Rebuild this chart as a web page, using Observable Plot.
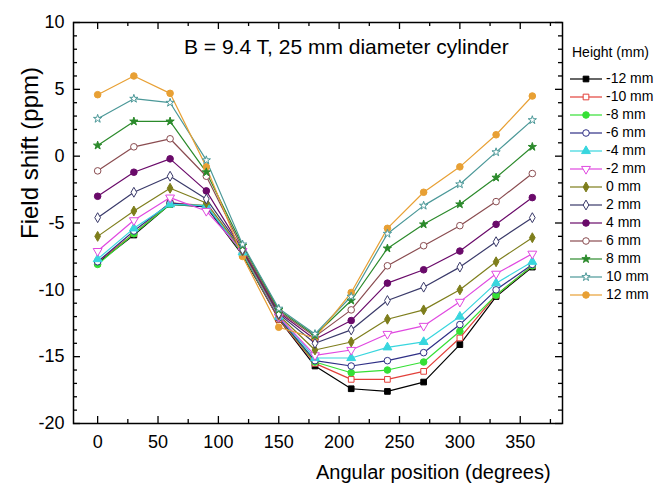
<!DOCTYPE html>
<html><head><meta charset="utf-8">
<script src="https://cdn.jsdelivr.net/npm/d3@7"></script>
<script src="https://cdn.jsdelivr.net/npm/@observablehq/plot@0.6"></script>
<style>
body{margin:0;background:#fff;font-family:"Liberation Sans",Arial,sans-serif;color:#000;}
#wrap{position:relative;width:667px;height:490px;overflow:hidden;background:#fff;}
.ov{position:absolute;white-space:nowrap;line-height:1;}
</style></head><body><div id="wrap"></div><script>
// ---- data ----
const angles = [0,30,60,90,120,150,180,210,240,270,300,330,360];
const heights = [-12,-10,-8,-6,-4,-2,0,2,4,6,8,10,12];
const hm12 = [-8.0,-5.9,-3.6,-3.8,-7.4,-12.2,-15.7,-17.4,-17.6,-16.9,-14.1,-10.5,-8.3];
const hm10 = [-7.9,-5.8,-3.5,-3.7,-7.3,-12.2,-15.5,-16.7,-16.7,-16.1,-13.6,-10.4,-8.2];
const hm8  = [-8.1,-5.8,-3.6,-3.7,-7.3,-12.1,-15.4,-16.2,-16.0,-15.4,-13.1,-10.4,-8.2];
const hm6  = [-7.9,-5.6,-3.5,-3.8,-7.2,-12.1,-15.3,-15.7,-15.3,-14.7,-12.6,-10.0,-8.1];
const hm4  = [-7.7,-5.4,-3.6,-3.7,-7.2,-12.0,-15.1,-15.1,-14.3,-13.9,-12.0,-9.5,-7.9];
const hm2  = [-7.1,-4.8,-3.1,-4.1,-7.1,-12.0,-14.9,-14.5,-13.3,-12.7,-10.9,-8.8,-7.3];
const h0   = [-6.0,-4.1,-2.4,-3.5,-7.1,-11.9,-14.5,-13.9,-12.2,-11.5,-10.0,-7.9,-6.1];
const h2   = [-4.6,-2.7,-1.5,-3.2,-7.0,-11.8,-14.0,-13.0,-10.8,-9.8,-8.3,-6.4,-4.6];
const h4   = [-3.0,-1.2,-0.2,-2.6,-7.0,-11.7,-13.7,-12.3,-9.5,-8.5,-7.1,-5.1,-3.1];
const h6   = [-1.1,0.7,1.3,-1.5,-6.9,-11.6,-13.5,-11.5,-8.2,-6.7,-5.2,-3.4,-1.3];
const h8   = [0.8,2.6,2.6,-1.2,-6.7,-11.5,-13.4,-10.8,-6.9,-5.1,-3.6,-1.6,0.7];
const h10  = [2.8,4.3,4.0,-0.3,-6.6,-11.4,-13.3,-10.5,-5.8,-3.7,-2.1,0.3,2.7];
const h12  = [4.6,6.0,4.7,-0.8,-7.5,-12.8,-13.6,-10.2,-5.4,-2.7,-0.8,1.6,4.5];
const seriesValues = [hm12,hm10,hm8,hm6,hm4,hm2,h0,h2,h4,h6,h8,h10,h12];
const seriesLabels = ["-12 mm","-10 mm","-8 mm","-6 mm","-4 mm","-2 mm","0 mm","2 mm","4 mm","6 mm","8 mm","10 mm","12 mm"];
const seriesColors = ["#000000","#e2403a","#35e035","#2f2f86","#38d6de","#e048e0","#7e7e1c","#3a3a6a","#6a0a6a","#8a4c50","#2b8a2b","#4b9898","#e8a034"];
const seriesSymbols = ["square","square","circle","circle","triangle","triangle","diamond","diamond","circle","circle","star","star","circle"];
const seriesFilled = [true,false,true,false,true,false,true,false,true,false,true,false,true];
const seriesRotate = [0,0,0,0,0,180,0,0,0,0,0,0,0];
const xTicks = [0,50,100,150,200,250,300,350];
const xMinor = [25,75,125,175,225,275,325,375];
const yTicks = [-20,-15,-10,-5,0,5,10];
const yMinor = d3.range(-19,10).filter(v => v % 5 !== 0);
const titleText = "B = 9.4 T, 25 mm diameter cylinder";
const xLabel = "Angular position (degrees)";
const yLabel = "Field shift (ppm)";
const legendTitle = "Height (mm)";

// marker radius per symbol (display size)
const symR = {square: 3.2, circle: 3.3, triangle: 3.3, diamond: 3.0, star: 2.6};

// ---- build rows ----
const rows = [];
seriesValues.forEach((vals, i) => vals.forEach((v, j) => rows.push({
  height: heights[i], angle: angles[j], value: v,
  color: seriesColors[i], symbol: seriesSymbols[i],
  fill: seriesFilled[i] ? seriesColors[i] : "white", rot: seriesRotate[i]
})));

const W = 667, H = 490, ML = 73, MR = 105, MT = 22, MB = 67;
const PW = W - ML - MR, PH = H - MT - MB;

const dotMarks = Object.keys(symR).map(s => Plot.dot(rows.filter(d => d.symbol === s), {
  x: "angle", y: "value", symbol: d => d.symbol, fill: d => d.fill, stroke: d => d.color,
  rotate: d => d.rot, r: symR[s], strokeWidth: 1
}));

const chart = Plot.plot({
  width: W, height: H,
  marginLeft: ML, marginRight: MR, marginTop: MT, marginBottom: MB,
  style: {fontFamily: "'Liberation Sans', Arial, sans-serif", fontSize: "18px", color: "#000", background: "#fff"},
  x: {domain: [-20, 385]},
  y: {domain: [-20, 10]},
  marks: [
    Plot.line(rows, {x: "angle", y: "value", z: "height", stroke: d => d.color, strokeWidth: 1.2}),
    ...dotMarks,
    Plot.tickX(xTicks, {x: d => d, insetTop: PH - 7, strokeWidth: 1.3}),
    Plot.tickX(xTicks, {x: d => d, insetBottom: PH - 7, strokeWidth: 1.3}),
    Plot.tickX(xMinor, {x: d => d, insetTop: PH - 4, strokeWidth: 1.3}),
    Plot.tickX(xMinor, {x: d => d, insetBottom: PH - 4, strokeWidth: 1.3}),
    Plot.tickY(yTicks, {y: d => d, insetRight: PW - 7, strokeWidth: 1.3}),
    Plot.tickY(yTicks, {y: d => d, insetLeft: PW - 7, strokeWidth: 1.3}),
    Plot.tickY(yMinor, {y: d => d, insetRight: PW - 4, strokeWidth: 1.3}),
    Plot.tickY(yMinor, {y: d => d, insetLeft: PW - 4, strokeWidth: 1.3}),
    Plot.axisX({ticks: xTicks, tickSize: 0, tickPadding: 12, label: null, tickFormat: d => String(d), fontSize: 18}),
    Plot.axisY({ticks: yTicks, tickSize: 0, tickPadding: 9, label: null, tickFormat: d => String(d), fontSize: 18}),
    Plot.frame({stroke: "#000", strokeWidth: 1.5})
  ]
});
const wrap = document.getElementById("wrap");
wrap.appendChild(chart);

function ov(text, css) {
  const d = document.createElement("div");
  d.className = "ov"; d.textContent = text;
  Object.assign(d.style, css);
  wrap.appendChild(d); return d;
}
ov(titleText, {left: "184px", top: "36px", fontSize: "21px"});
ov(xLabel, {left: "316px", top: "462px", fontSize: "20px"});
ov(yLabel, {left: "30px", top: "153px", fontSize: "24px", transform: "translate(-50%,-50%) rotate(-90deg)"});

// legend
ov(legendTitle, {left: "572px", top: "45px", fontSize: "14px"});
seriesLabels.forEach((lab, i) => {
  const cy = 79 + i * 18;
  const svg = d3.select(wrap).append("svg")
    .attr("width", 36).attr("height", 14)
    .style("position", "absolute").style("left", "568px").style("top", (cy - 7) + "px");
  svg.append("line").attr("x1", 2).attr("x2", 34).attr("y1", 7).attr("y2", 7)
    .attr("stroke", seriesColors[i]).attr("stroke-width", 1.2);
  const typ = {square: d3.symbolSquare, circle: d3.symbolCircle, triangle: d3.symbolTriangle,
    diamond: d3.symbolDiamond, star: d3.symbolStar}[seriesSymbols[i]];
  const r = symR[seriesSymbols[i]];
  svg.append("path").attr("d", d3.symbol(typ, Math.PI * r * r)())
    .attr("transform", `translate(18,7) rotate(${seriesRotate[i]})`)
    .attr("fill", seriesFilled[i] ? seriesColors[i] : "white")
    .attr("stroke", seriesColors[i]).attr("stroke-width", 1);
  ov(lab, {left: "606px", top: (cy - 8) + "px", fontSize: "14px"});
});
</script></body></html>
